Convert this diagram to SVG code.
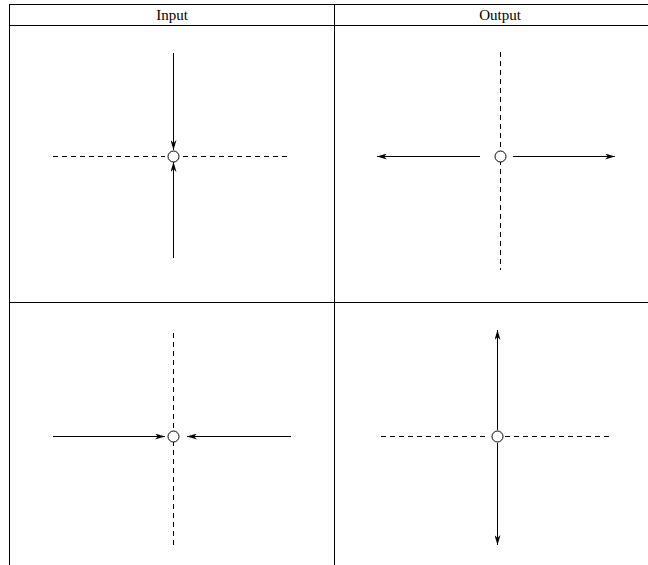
<svg xmlns="http://www.w3.org/2000/svg" width="648" height="565" viewBox="0 0 648 565">
<style>
.grid{stroke:#000;stroke-width:1;fill:none}
.ar{stroke:#000;stroke-width:1;fill:none;marker-end:url(#ah)}
.dash{stroke:#000;stroke-width:1;fill:none;stroke-dasharray:5,4}
.node{stroke:#000;stroke-width:1;fill:#fff}
.hdr{font-family:"Liberation Serif",serif;font-size:15px;text-anchor:middle;fill:#000}
</style>
<defs>
<marker id="ah" viewBox="0 0 10 6" refX="10" refY="3" markerWidth="10" markerHeight="6" markerUnits="userSpaceOnUse" orient="auto">
<path d="M0,0 L10,3 L0,6 L3,3 Z" fill="#000"/>
</marker>
</defs>
<g id="table" class="grid">
<line x1="9.5" y1="4.5" x2="648" y2="4.5"/>
<line x1="9.5" y1="25.5" x2="648" y2="25.5"/>
<line x1="9.5" y1="302.5" x2="648" y2="302.5"/>
<line x1="9.5" y1="4" x2="9.5" y2="565"/>
<line x1="334.5" y1="4" x2="334.5" y2="565"/>
</g>
<text class="hdr" x="172" y="20">Input</text>
<text class="hdr" x="500" y="20">Output</text>
<g id="connectors">
<line class="dash" x1="53" y1="156.5" x2="165" y2="156.5"/>
<line class="dash" x1="183" y1="156.5" x2="287" y2="156.5"/>
<line class="ar" x1="173.5" y1="53" x2="173.5" y2="150"/>
<line class="ar" x1="173.5" y1="258" x2="173.5" y2="162"/>
<line class="dash" x1="500.5" y1="52" x2="500.5" y2="270"/>
<line class="ar" x1="480" y1="156.5" x2="377" y2="156.5"/>
<line class="ar" x1="513" y1="156.5" x2="615" y2="156.5"/>
<line class="dash" x1="173.5" y1="333" x2="173.5" y2="545"/>
<line class="ar" x1="53" y1="436.5" x2="165" y2="436.5"/>
<line class="ar" x1="291" y1="436.5" x2="187" y2="436.5"/>
<line class="dash" x1="381" y1="436.5" x2="489" y2="436.5"/>
<line class="dash" x1="505" y1="436.5" x2="613" y2="436.5"/>
<line class="ar" x1="497.5" y1="430" x2="497.5" y2="330"/>
<line class="ar" x1="497.5" y1="443" x2="497.5" y2="545"/>
</g>
<g id="n1"><circle class="node" cx="173.5" cy="156.5" r="5.5"/></g>
<g id="n2"><circle class="node" cx="500.5" cy="156.5" r="5.5"/></g>
<g id="n3"><circle class="node" cx="173.5" cy="436.5" r="5.5"/></g>
<g id="n4"><circle class="node" cx="497.5" cy="436.5" r="5.5"/></g>
</svg>
